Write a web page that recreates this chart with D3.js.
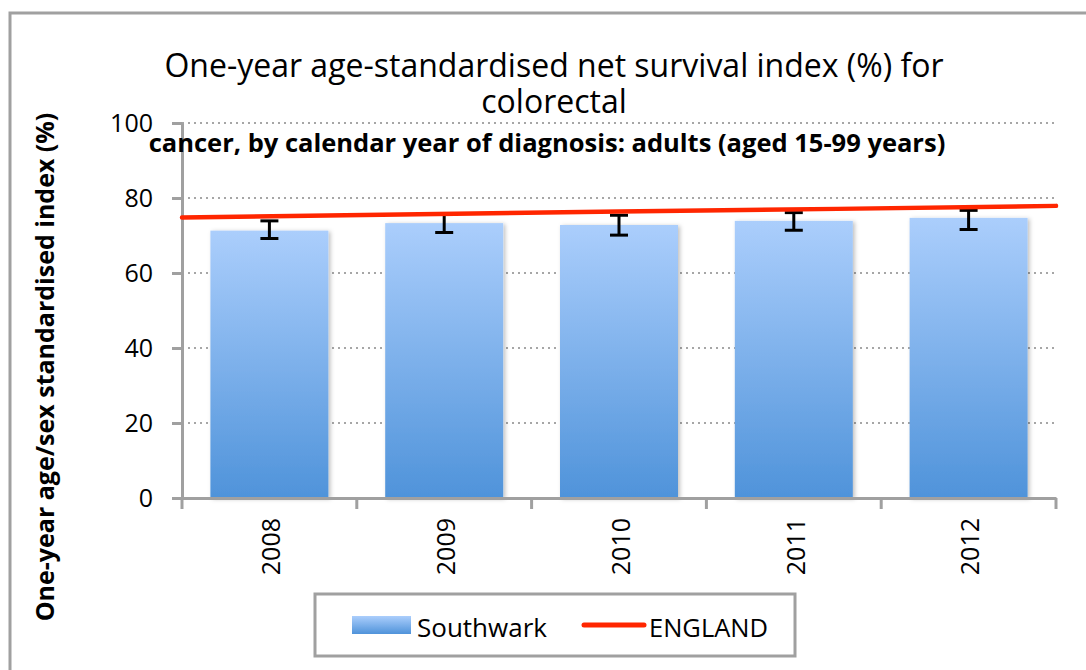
<!DOCTYPE html>
<meta charset="utf-8">
<style>
    body{ margin:0; background:#fff; }
    svg{ font-family: "Open Sans", Lato, sans-serif; }
    .grid line{ stroke:#a6a6a6; stroke-width:2; stroke-dasharray:2,4; }
    .axis path, .axis line{ stroke:#a0a0a0; stroke-width:3; }
    .axis text{ fill:#000; font-size:25px; font-family:"Open Sans", sans-serif; }
</style>
<body>
<svg id="chart" width="1086" height="670"></svg>
</body>
<script src="https://d3js.org/d3.v7.min.js"></script>
<script>
// data
var years = ["2008", "2009", "2010", "2011", "2012"];
var southwark = [71.3, 73.3, 72.8, 73.9, 74.7];
var ciLow  = [69.2, 70.8, 70.1, 71.4, 71.6];
var ciHigh = [73.9, 75.6, 75.4, 76.1, 76.7];
var england = [74.8, 75.6, 76.4, 77.1, 77.9];
var yTicks = [0, 20, 40, 60, 80, 100];

var svg = d3.select("#chart");

// outer frame
svg.append("rect")
    .attr("x", 10).attr("y", 13).attr("width", 1100).attr("height", 700)
    .attr("fill", "none").attr("stroke", "#a0a0a0").attr("stroke-width", 3);

var pLeft = 182, pRight = 1056, pTop = 123, pBottom = 498;

var x = d3.scaleBand().domain(years).range([pLeft, pRight]).padding(0);
var xLine = d3.scalePoint().domain(years).range([pLeft, pRight]);
var y = d3.scaleLinear().domain([0, 100]).range([pBottom, pTop]);

var defs = svg.append("defs");
var grad = defs.append("linearGradient").attr("id", "barGrad")
    .attr("x1", 0).attr("y1", 0).attr("x2", 0).attr("y2", 1);
grad.append("stop").attr("offset", "0%").attr("stop-color", "#abcefc");
grad.append("stop").attr("offset", "100%").attr("stop-color", "#4f93da");
var shadow = defs.append("filter").attr("id", "shadow")
    .attr("x", "-10%").attr("y", "-10%").attr("width", "130%").attr("height", "130%");
shadow.append("feDropShadow").attr("dx", 2).attr("dy", 1).attr("stdDeviation", 2)
    .attr("flood-color", "#000").attr("flood-opacity", 0.25);

// gridlines
svg.append("g").attr("class", "grid")
    .selectAll("line").data(yTicks.filter(function(d){ return d > 0; }))
    .enter().append("line")
    .attr("x1", pLeft).attr("x2", pRight)
    .attr("y1", function(d){ return y(d); })
    .attr("y2", function(d){ return y(d); });

// bars
var barW = x.bandwidth() * 0.675;
svg.append("g").selectAll("rect")
    .data(southwark).enter().append("rect")
    .attr("x", function(d, i){ return x(years[i]) + (x.bandwidth() - barW) / 2; })
    .attr("y", function(d){ return y(d); })
    .attr("width", barW)
    .attr("height", function(d){ return y(0) - y(d); })
    .attr("fill", "url(#barGrad)")
    .attr("filter", "url(#shadow)");

// y axis
svg.append("g").attr("class", "axis")
    .attr("transform", "translate(" + pLeft + ",0)")
    .call(d3.axisLeft(y).tickValues(yTicks).tickSize(10).tickSizeOuter(0).tickPadding(19));

// x axis
var xAxis = svg.append("g").attr("class", "axis")
    .attr("transform", "translate(0," + pBottom + ")")
    .call(d3.axisBottom(x).tickSize(0).tickSizeOuter(0));
xAxis.selectAll(".tick line").remove();
xAxis.selectAll("text")
    .attr("transform", "rotate(-90)")
    .attr("text-anchor", "end")
    .attr("font-size", 26)
    .attr("x", -20).attr("y", 2).attr("dy", "0.35em");
xAxis.selectAll(".edge").data(years.concat(["end"])).enter().append("line")
    .attr("class", "edge")
    .attr("x1", function(d, i){ return pLeft + i * x.step(); })
    .attr("x2", function(d, i){ return pLeft + i * x.step(); })
    .attr("y1", 0).attr("y2", 11)
    .attr("stroke", "#a0a0a0").attr("stroke-width", 3);

// error bars
var eb = svg.append("g").attr("stroke", "#000").attr("stroke-width", 3);
years.forEach(function(yr, i){
    var cx = x(yr) + x.bandwidth() / 2;
    eb.append("line").attr("x1", cx).attr("x2", cx).attr("y1", y(ciLow[i])).attr("y2", y(ciHigh[i]));
    eb.append("line").attr("x1", cx - 9).attr("x2", cx + 9).attr("y1", y(ciLow[i])).attr("y2", y(ciLow[i]));
    eb.append("line").attr("x1", cx - 9).attr("x2", cx + 9).attr("y1", y(ciHigh[i])).attr("y2", y(ciHigh[i]));
});

// England line
svg.append("path")
    .datum(england)
    .attr("fill", "none").attr("stroke", "#ff2600").attr("stroke-width", 4.5)
    .attr("stroke-linecap", "round")
    .attr("d", d3.line().x(function(d, i){ return xLine(years[i]); }).y(function(d){ return y(d); }));

// titles
svg.append("text").attr("x", 554).attr("y", 77).attr("text-anchor", "middle")
    .attr("font-size", 32).text("One-year age-standardised net survival index (%) for");
svg.append("text").attr("x", 554).attr("y", 113).attr("text-anchor", "middle")
    .attr("font-size", 32).text("colorectal");
svg.append("text").attr("x", 547).attr("y", 152).attr("text-anchor", "middle")
    .attr("font-size", 25.5).attr("font-weight", "bold")
    .text("cancer, by calendar year of diagnosis: adults (aged 15-99 years)");

svg.append("text")
    .attr("transform", "translate(54,367) rotate(-90)")
    .attr("text-anchor", "middle").attr("font-size", 25).attr("font-weight", "bold")
    .text("One-year age/sex standardised index (%)");

// legend
var leg = svg.append("g");
leg.append("rect").attr("x", 315).attr("y", 594).attr("width", 480).attr("height", 62)
    .attr("fill", "#fff").attr("stroke", "#a0a0a0").attr("stroke-width", 3);
leg.append("rect").attr("x", 352).attr("y", 616).attr("width", 59).attr("height", 18)
    .attr("fill", "url(#barGrad)");
leg.append("text").attr("x", 417).attr("y", 637).attr("font-size", 26).text("Southwark");
leg.append("line").attr("x1", 584).attr("x2", 644).attr("y1", 625).attr("y2", 625)
    .attr("stroke", "#ff2600").attr("stroke-width", 5).attr("stroke-linecap", "round");
leg.append("text").attr("x", 649).attr("y", 637).attr("font-size", 25.5).text("ENGLAND");
</script>
